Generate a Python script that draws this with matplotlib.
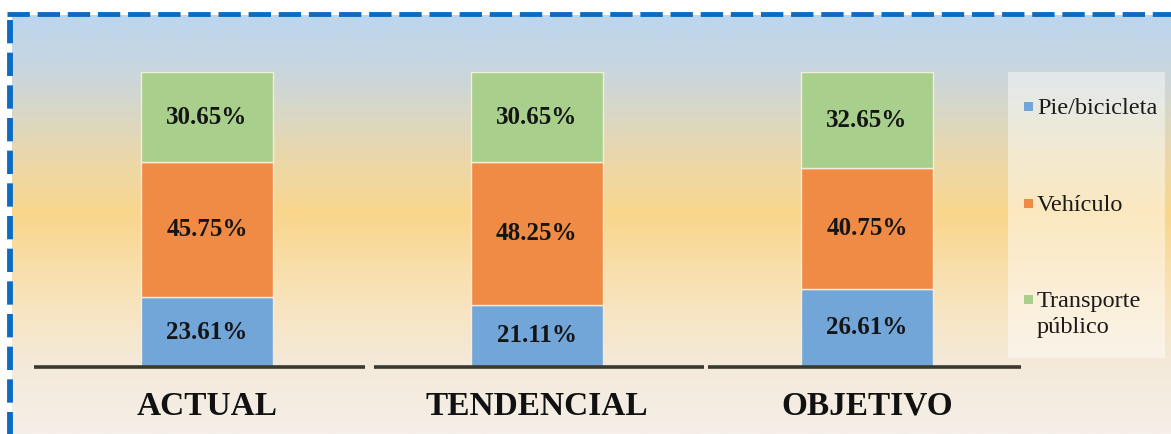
import numpy as np
import matplotlib
matplotlib.use("Agg")
import matplotlib.pyplot as plt
from matplotlib.colors import LinearSegmentedColormap
from matplotlib.lines import Line2D
from matplotlib.patches import Rectangle

# data
escenarios = ["ACTUAL", "TENDENCIAL", "OBJETIVO"]
modos = ["Pie/bicicleta", "Vehículo", "Transporte\npúblico"]
pie_bici = [23.61, 21.11, 26.61]
vehiculo = [45.75, 48.25, 40.75]
transporte = [30.65, 30.65, 32.65]
colores = ["#72A5D8", "#F08B45", "#A8D08C"]

plt.rcParams["font.family"] = ["Liberation Serif", "DejaVu Serif"]

W, H = 1171, 434
fig = plt.figure(figsize=(W / 100, H / 100), dpi=100)
fig.patch.set_facecolor("white")

# background gradient + dashed frame (pixel coordinates, y down)
bg = fig.add_axes([0, 0, 1, 1])
bg.set_xlim(0, W)
bg.set_ylim(H, 0)
bg.axis("off")
stops = [(15, "#BCD6EE"), (60, "#C6D6E2"), (100, "#D4D7CD"), (150, "#E8D8AE"),
         (215, "#FAD68C"), (260, "#F9DDA6"), (320, "#F7E6C6"), (370, "#F4EADB"),
         (434, "#F5EFE8")]
y0, y1 = stops[0][0], stops[-1][0]
cmap = LinearSegmentedColormap.from_list(
    "bg", [((y - y0) / (y1 - y0), c) for y, c in stops])
grad = np.linspace(0, 1, 300).reshape(-1, 1)
bg.imshow(grad, cmap=cmap, aspect="auto", extent=[12, W, y1, y0], zorder=0)
frame = "#0B6CC1"
bg.add_line(Line2D([7, W], [13.5, 13.5], color=frame, lw=3.5,
                   linestyle=(0, (4.6, 1.6)), solid_capstyle="butt"))
bg.add_line(Line2D([10, 10], [20, H], color=frame, lw=4.2,
                   linestyle=(0, (4.0, 1.6)), solid_capstyle="butt"))

# main chart
ax = fig.add_axes([34 / W, (H - 367) / H, 987 / W, 295 / H])
ax.patch.set_alpha(0)
x = np.arange(len(escenarios))
ancho = 0.4
bottom = np.zeros(len(escenarios))
for serie, color in zip([pie_bici, vehiculo, transporte], colores):
    vals = np.array(serie)
    ax.bar(x, vals, ancho, bottom=bottom, color=color,
           edgecolor="#F6EBDD", linewidth=1.0, zorder=2)
    for xi, b, v in zip(x, bottom, vals):
        ax.text(xi, b + v / 2, f"{v:.2f}%", ha="center", va="center",
                fontsize=18, fontweight="bold", color="#151515", zorder=3)
    bottom += vals

# separate baseline under each scenario
segmentos = [(-0.524, 0.479), (0.506, 1.506), (1.518, 2.467)]
for a, b in segmentos:
    ax.plot([a, b], [0, 0], color="#3a3930", lw=2.6, clip_on=False,
            solid_capstyle="butt", zorder=4)

ax.set_xlim(-0.524, 2.467)
ax.set_ylim(0, 100)
ax.set_xticks(x)
ax.set_xticklabels(escenarios, fontsize=24, fontweight="bold", color="#111111")
ax.tick_params(axis="x", length=0, pad=17)
ax.set_yticks([])
for s in ax.spines.values():
    s.set_visible(False)

# legend box
bg.add_patch(Rectangle((1008, 72), 157, 286, facecolor="white", alpha=0.45,
                       edgecolor="none", zorder=1))
ys = [107, 204, 300]
for yy, lab, col in zip(ys, modos, colores):
    bg.add_patch(Rectangle((1024, yy - 5), 9, 9, facecolor=col,
                           edgecolor="none", zorder=2))
    bg.text(1037, yy - 9, lab, ha="left", va="top", fontsize=17.5,
            color="#1a1a1a", linespacing=1.3, zorder=3)

fig.savefig("out.png", dpi=100)
